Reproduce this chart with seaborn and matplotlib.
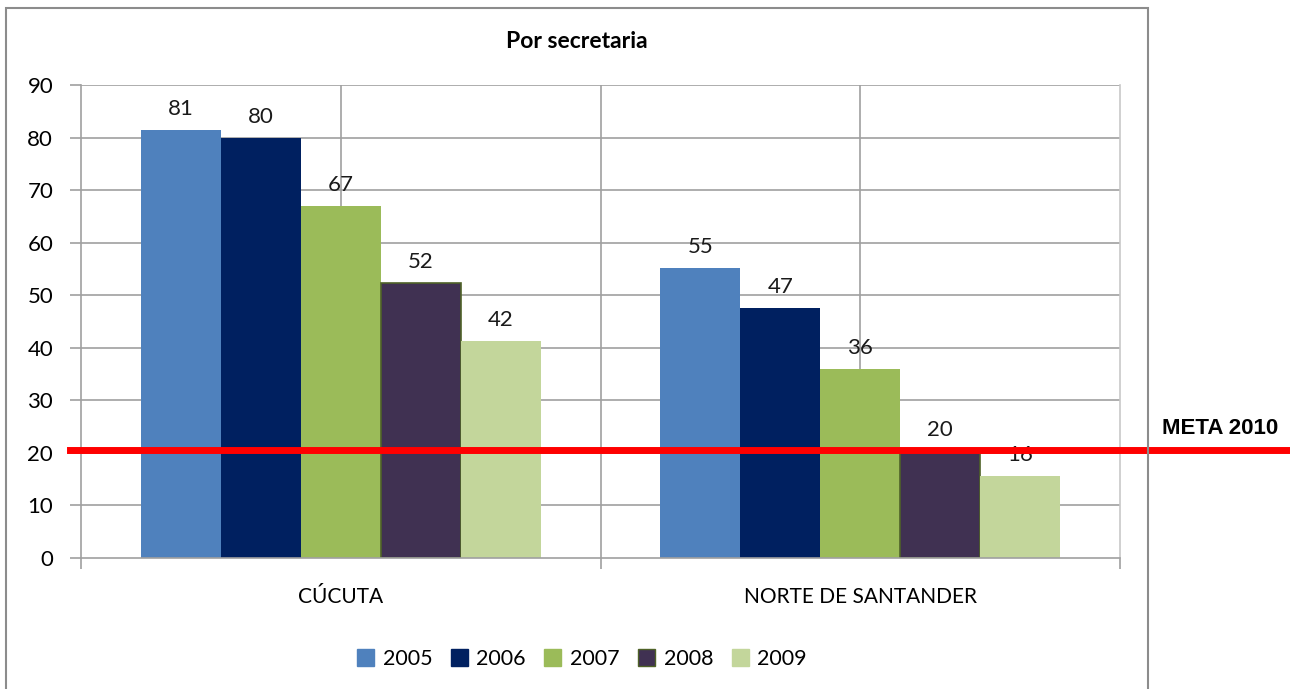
import pandas as pd
import numpy as np
import matplotlib
matplotlib.use("Agg")
import matplotlib.pyplot as plt
import matplotlib.patches as mpatches
import seaborn as sns

categories = ["CÚCUTA", "NORTE DE SANTANDER"]
years = ["2005", "2006", "2007", "2008", "2009"]
val_2005 = [81.5, 55.1]
val_2006 = [79.9, 47.5]
val_2007 = [67.0, 35.9]
val_2008 = [52.3, 20.4]
val_2009 = [41.3, 15.6]
lab_2005 = ["81", "55"]
lab_2006 = ["80", "47"]
lab_2007 = ["67", "36"]
lab_2008 = ["52", "20"]
lab_2009 = ["42", "16"]
meta_2010 = 20.5
yticks = [0, 10, 20, 30, 40, 50, 60, 70, 80, 90]

colors = ["#4F81BD", "#002060", "#9BBB59", "#403152", "#C3D69B"]

values = [val_2005, val_2006, val_2007, val_2008, val_2009]
labels = [lab_2005, lab_2006, lab_2007, lab_2008, lab_2009]
rows = []
for yr, vals in zip(years, values):
    for cat, v in zip(categories, vals):
        rows.append({"categoria": cat, "anio": yr, "valor": v})
df = pd.DataFrame(rows)

plt.rcParams['font.family'] = ['Lato', 'DejaVu Sans']
grid_c = "#A0A0A0"

fig = plt.figure(figsize=(12.9, 6.89), dpi=100)
ax = fig.add_axes([81 / 1290, 1 - 558 / 689, (1120 - 81) / 1290, (558 - 85) / 689])

sns.barplot(data=df, x="categoria", y="valor", hue="anio", hue_order=years,
            palette=colors, saturation=1, width=0.77, gap=0, legend=False,
            zorder=2, ax=ax)

# 2008 bars have a dark olive outline
for p in ax.containers[3]:
    p.set_edgecolor("#4F6228")
    p.set_linewidth(1.2)

for cont, labs in zip(ax.containers, labels):
    ax.bar_label(cont, labels=labs, padding=8, fontsize=16, color="#1a1a1a", zorder=3)

ax.set_xlim(-0.5, 1.5)
ax.set_ylim(0, 90)
ax.set_yticks(yticks)
ax.set_xticks([0, 1])
ax.set_xticklabels(categories)
ax.set_xticks([-0.5, 0.5, 1.5], minor=True)
ax.set_xlabel("")
ax.set_ylabel("")

for y in yticks[1:]:
    ax.axhline(y, color=grid_c, lw=1.2, zorder=0)
for x in [0, 0.5, 1]:
    ax.axvline(x, color=grid_c, lw=1.2, zorder=0)

ax.tick_params(axis="y", length=8, color=grid_c, width=1.2, pad=12, labelsize=16)
ax.tick_params(axis="x", which="major", length=0, pad=21, labelsize=15)
ax.tick_params(axis="x", which="minor", length=8, color=grid_c, width=1.2)
for s in ["left", "bottom"]:
    ax.spines[s].set_color(grid_c)
    ax.spines[s].set_linewidth(1.2)
ax.spines["top"].set_visible(False)
ax.spines["right"].set_color("#C8C8C8")
ax.spines["right"].set_linewidth(1.2)

# red target line, goes past the plot area
ax.axhline(meta_2010, xmin=-0.0106, xmax=1.17, color="#FF0000", lw=5, clip_on=False, zorder=5)
fig.text(1220 / 1290, 1 - 429 / 689, "META 2010", ha="center", va="center",
         fontsize=16, fontweight="bold", family=["Liberation Sans", "DejaVu Sans"])

fig.text(577 / 1290, 1 - 42 / 689, "Por secretaria", ha="center", va="center",
         fontsize=16.5, fontweight="bold")

handles = []
for yr, c in zip(years, colors):
    ec = "#4F6228" if yr == "2008" else c
    handles.append(mpatches.Patch(facecolor=c, edgecolor=ec, label=yr))
fig.legend(handles=handles, loc="center", bbox_to_anchor=(582 / 1290, 1 - 659 / 689),
           ncol=5, frameon=False, fontsize=15.5, handlelength=0.8, handleheight=0.8,
           handletextpad=0.4, columnspacing=0.85)

# outer chart frame
fig.patches.append(mpatches.Rectangle((6 / 1290, -0.01), (1148 - 6) / 1290, 1 - 8 / 689 + 0.01,
                                      transform=fig.transFigure, fill=False,
                                      edgecolor="#8C8C8C", lw=1.5, zorder=0))

fig.savefig("out.png", dpi=100)
